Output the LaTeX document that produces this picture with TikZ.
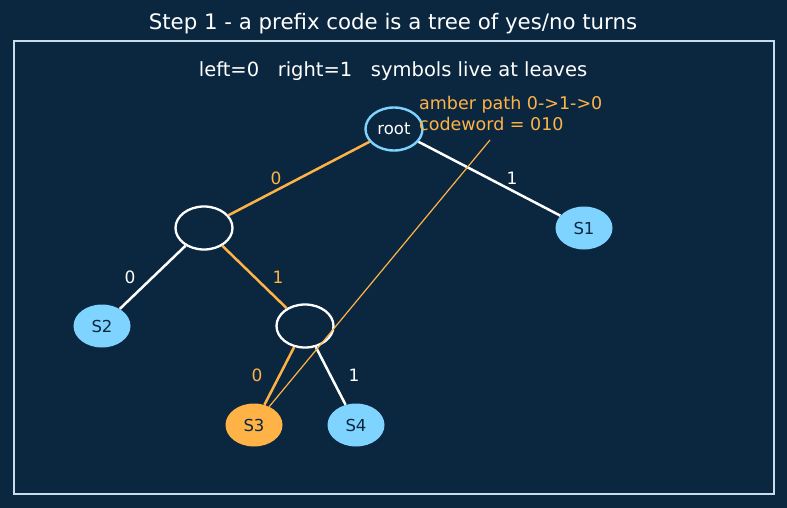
\documentclass[tikz,border=0pt]{standalone}
\usepackage{fontspec}
\setmainfont{DejaVu Sans}
\usetikzlibrary{shapes.geometric}
\definecolor{bg}{HTML}{0B2740}
\definecolor{frame}{HTML}{C8DCEB}
\definecolor{amber}{HTML}{FFB347}
\definecolor{sky}{HTML}{7FD4FF}
\definecolor{ink}{HTML}{0B2740}
\tikzset{
  nd/.style={ellipse, minimum width=57pt, minimum height=43pt, inner sep=0pt, font=\fontsize{16.5}{19}\selectfont},
  inner/.style={nd, draw=white, line width=2.3pt, fill=bg},
  leaf/.style={nd, fill=sky, text=ink},
  edgew/.style={draw=white, line width=2.5pt},
  edgea/.style={draw=amber, line width=2.5pt},
  lbl/.style={font=\fontsize{17}{20}\selectfont},
}
\begin{document}
\begin{tikzpicture}[x=1pt,y=-1pt]
\fill[bg] (0,0) rectangle (787,508);
\useasboundingbox (0,0) rectangle (787,508);
\draw[frame, line width=1.3pt] (14,41) rectangle (774,494);
\node[text=white, font=\fontsize{21.3}{24}\selectfont] (title) at (393,23.5) {Step 1 - a prefix code is a tree of yes/no turns};
\node[text=white, font=\fontsize{19.5}{22}\selectfont] (sub) at (393,71.5) {left=0~~~right=1~~~symbols live at leaves};

\node[nd, draw=sky, line width=2.4pt, fill=bg, text=white] (root) at (394,129) {root};
\node[inner] (n0) at (204,228) {};
\node[leaf] (s1) at (584,228) {S1};
\node[leaf] (s2) at (102,326) {S2};
\node[inner] (n01) at (305,326) {};
\node[nd, fill=amber, text=ink] (s3) at (254,425) {S3};
\node[leaf] (s4) at (356,425) {S4};

\draw[edgea] (root) -- (n0);
\draw[edgew] (root) -- (s1);
\draw[edgew] (n0) -- (s2);
\draw[edgea] (n0) -- (n01);
\draw[edgea] (n01) -- (s3);
\draw[edgew] (n01) -- (s4);

\node[lbl, text=amber] (l1) at (276,178.5) {0};
\node[lbl, text=white] (l2) at (512,178.5) {1};
\node[lbl, text=white] (l3) at (130,277.5) {0};
\node[lbl, text=amber] (l4) at (278,277.5) {1};
\node[lbl, text=amber] (l5) at (257,375.5) {0};
\node[lbl, text=white] (l6) at (354,375.5) {1};

\node[text=amber, anchor=north west, align=left, inner sep=0pt, font=\fontsize{17.5}{21}\selectfont] (ann) at (419,96) {amber path 0->1->0\\codeword = 010};
\coordinate (annp) at (490,140);
\draw[amber, line width=1.2pt] (annp) -- (s3);
\end{tikzpicture}
\end{document}
